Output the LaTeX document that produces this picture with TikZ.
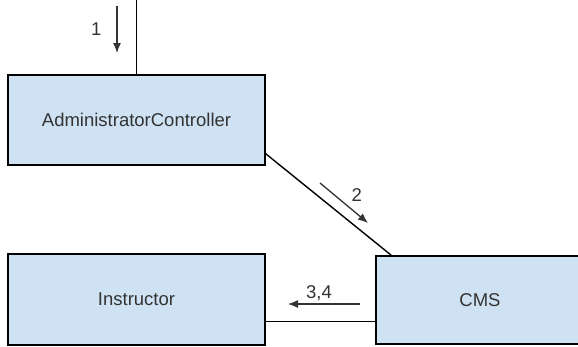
\documentclass[tikz,border=0pt]{standalone}
\usepackage{fontspec}
\setmainfont{Liberation Sans}
\usetikzlibrary{positioning,arrows.meta}
\usepackage{xcolor}
\definecolor{boxblue}{HTML}{CFE2F3}
\definecolor{txtgray}{HTML}{333333}

\begin{document}
\begin{tikzpicture}[x=1pt,y=-1pt,>={Latex[length=10pt,width=8pt]},
  box/.style={draw=black,line width=1.4pt,fill=boxblue,text=txtgray,inner sep=0pt,font=\fontsize{18.5}{22}\selectfont},
  msg/.style={->,line width=1.3pt,draw=black!80},
  lbl/.style={text=txtgray,inner sep=1pt,font=\fontsize{18.5}{22}\selectfont}]
\clip (0,0) rectangle (578,346);
\node[box,minimum width=257pt,minimum height=90pt] (admin) at (136.5,120) {AdministratorController};
\node[box,minimum width=257pt,minimum height=91pt] (instr) at (136.5,299.5) {Instructor};
\node[box,minimum width=208pt,minimum height=88pt] (cms) at (480,300) {CMS};
\coordinate (top) at (136.5,0);
\draw[line width=1.4pt] (top) -- (admin.north);
\draw[line width=1.4pt] ([yshift=12pt]admin.south east) -- ([xshift=16pt]cms.north west);
\draw[line width=1.4pt] ([yshift=24pt]instr.south east) -- ([yshift=24pt]instr.south east -| cms.west);
% messages
\coordinate (m1a) at (117,6);
\coordinate (m1b) at (117,53);
\draw[msg] (m1a) -- (m1b) node[lbl,midway,left=14pt] (l1) {1};
\coordinate (m2a) at (320,183);
\coordinate (m2b) at (368,223);
\draw[msg] (m2a) -- (m2b) node[lbl,midway,above right=0pt and 6pt] (l2) {2};
\coordinate (m3a) at (360,304);
\coordinate (m3b) at (288,304);
\draw[msg] (m3a) -- (m3b) node[lbl,midway,above=1pt,xshift=-5pt] (l3) {3,4};
\end{tikzpicture}
\end{document}
